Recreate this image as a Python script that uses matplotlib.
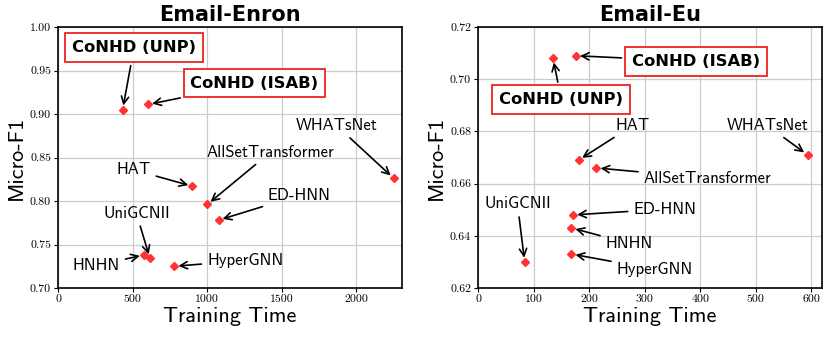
import matplotlib
matplotlib.use("Agg")
import matplotlib.pyplot as plt

plt.rcParams['font.family'] = ['cmss10', 'DejaVu Sans']
plt.rcParams['axes.unicode_minus'] = False
plt.rcParams['axes.formatter.use_mathtext'] = True

methods = ["CoNHD (UNP)", "CoNHD (ISAB)", "WHATsNet", "AllSetTransformer", "HAT",
           "ED-HNN", "UniGCNII", "HNHN", "HyperGNN"]

# Email-Enron
enron_time = [433, 603, 2250, 1000, 900, 1076, 616, 576, 779]
enron_f1 = [0.905, 0.911, 0.826, 0.796, 0.817, 0.778, 0.734, 0.738, 0.725]
enron_text_x = [509, 1317, 1868, 1422, 507, 1612, 525, 257, 1254]
enron_text_y = [0.976, 0.9356, 0.8865, 0.8558, 0.8358, 0.8063, 0.786, 0.7257, 0.7315]

# Email-Eu
eu_time = [135, 176, 593, 213, 181, 171, 84, 168, 168]
eu_f1 = [0.708, 0.709, 0.671, 0.666, 0.669, 0.648, 0.630, 0.643, 0.633]
eu_text_x = [150, 392, 521, 413, 278, 336, 71, 272, 318]
eu_text_y = [0.6921, 0.7068, 0.6822, 0.6621, 0.6822, 0.6502, 0.6522, 0.6371, 0.6272]

panels = [
    ("Email-Enron", enron_time, enron_f1, enron_text_x, enron_text_y, (0, 2305), (0.70, 1.00),
     [0, 500, 1000, 1500, 2000], [0.70, 0.75, 0.80, 0.85, 0.90, 0.95, 1.00]),
    ("Email-Eu", eu_time, eu_f1, eu_text_x, eu_text_y, (0, 619), (0.62, 0.72),
     [0, 100, 200, 300, 400, 500, 600], [0.62, 0.64, 0.66, 0.68, 0.70, 0.72]),
]

fig = plt.figure(figsize=(8.3, 3.43), dpi=100)
axes = [fig.add_axes([58/830, 1-288/343, 344/830, 261/343]),
        fig.add_axes([478/830, 1-288/343, 344/830, 261/343])]

for ax, (title, xs, ys, tx, ty, xlim, ylim, xt, yt) in zip(axes, panels):
    ax.grid(True, color='#cccccc', lw=0.9, zorder=0)
    ax.set_axisbelow(True)
    ax.plot(xs, ys, 'D', color='#ff3333', ms=4.5, ls='none', zorder=3)
    for i, name in enumerate(methods):
        bold = name.startswith("CoNHD")
        kw = dict(fontsize=12, ha='center', va='center')
        if bold:
            kw.update(fontweight='bold', family='DejaVu Sans', fontsize=11.8,
                      bbox=dict(boxstyle='square,pad=0.42', fc='white', ec='#ee2222', lw=1.3))
        ax.annotate(name, xy=(xs[i], ys[i]), xytext=(tx[i], ty[i]),
                    arrowprops=dict(arrowstyle='->', color='black', lw=1.2,
                                    mutation_scale=13, shrinkA=2, shrinkB=3),
                    zorder=4, **kw)
    ax.set_xlim(*xlim)
    ax.set_ylim(*ylim)
    ax.set_xticks(xt)
    ax.set_yticks(yt)
    ax.set_xticklabels([str(v) for v in xt], family='cmr10', fontsize=8.5)
    ax.set_yticklabels(["%.2f" % v for v in yt], family='cmr10', fontsize=8.5)
    ax.tick_params(length=3, width=0.8, pad=2)
    for s in ax.spines.values():
        s.set_linewidth(1.2)
    ax.set_title(title, fontsize=15, fontweight='bold', family='DejaVu Sans', pad=4)
    ax.set_xlabel("Training Time", fontsize=16, labelpad=2)
    ax.set_ylabel("Micro-F1", fontsize=16, labelpad=3)

fig.savefig("out.png", dpi=100)
